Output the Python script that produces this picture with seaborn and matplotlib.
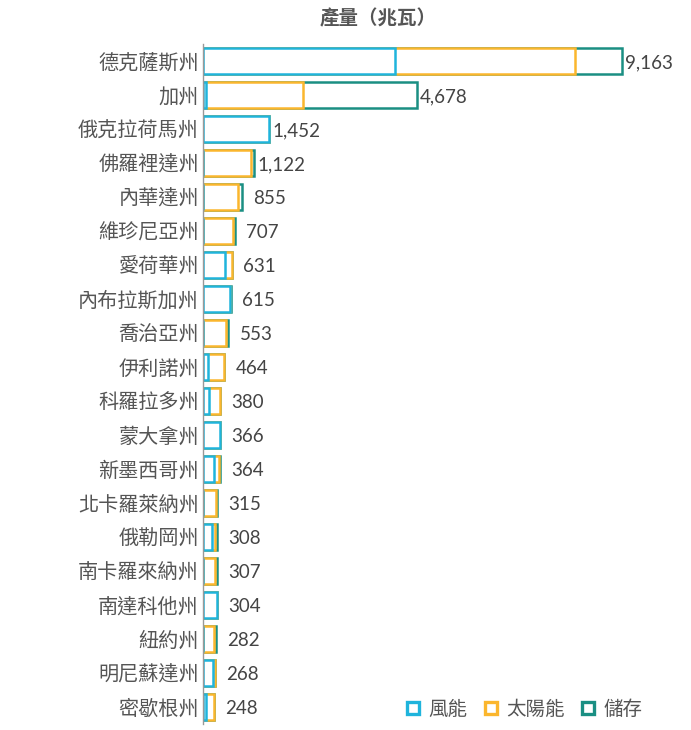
import matplotlib
matplotlib.use("Agg")
import matplotlib.pyplot as plt
from matplotlib.lines import Line2D
import numpy as np
import pandas as pd
import seaborn as sns

states = ["德克薩斯州", "加州", "俄克拉荷馬州", "佛羅裡達州", "內華達州", "維珍尼亞州",
          "愛荷華州", "內布拉斯加州", "喬治亞州", "伊利諾州", "科羅拉多州", "蒙大拿州",
          "新墨西哥州", "北卡羅萊納州", "俄勒岡州", "南卡羅來納州", "南達科他州",
          "紐約州", "明尼蘇達州", "密歇根州"]
wind = [4200, 60, 1452, 0, 0, 0, 480, 590, 0, 115, 140, 366, 235, 0, 200, 0, 304, 0, 225, 60]
solar = [3930, 2120, 0, 1056, 760, 660, 151, 0, 500, 349, 240, 0, 110, 278, 70, 270, 0, 240, 43, 188]
storage = [1033, 2498, 0, 66, 95, 47, 0, 25, 53, 0, 0, 0, 19, 37, 38, 37, 0, 42, 0, 0]
totals = [9163, 4678, 1452, 1122, 855, 707, 631, 615, 553, 464, 380, 366, 364, 315, 308, 307, 304, 282, 268, 248]

series_names = ["風能", "太陽能", "儲存"]
colors = ["#1fb4dc", "#fbb62d", "#1a8f83"]

df = pd.DataFrame({"state": states, "wind": wind, "solar": solar, "storage": storage})
df["c1"] = df["wind"]
df["c2"] = df["wind"] + df["solar"]
df["c3"] = df["c2"] + df["storage"]

sns.set_theme(style="white")
plt.rcParams["font.family"] = ["Noto Sans CJK TC", "DejaVu Sans"]

fig = plt.figure(figsize=(6.91, 7.30), dpi=100)
ax = fig.add_axes([0.2938, 0.0082, 0.6614, 0.9315])

# draw cumulative layers back to front, white fill hides the overlap
for col, c in zip(["c3", "c2", "c1"], colors[::-1]):
    sns.barplot(data=df, x=col, y="state", orient="h", color="white", saturation=1,
                edgecolor=c, linewidth=1.8, width=0.76, ax=ax)

for i, t in enumerate(totals):
    ax.annotate(f"{t:,}", xy=(df["c3"][i], i), xytext=(2 if t > 1000 else 8, -1),
                textcoords="offset points", va="center", ha="left",
                fontsize=13.5, color="#444444", family=["Lato", "DejaVu Sans"])

ax.set_xlim(0, 10000)
ax.set_xlabel("")
ax.set_ylabel("")
ax.set_xticks([])
ax.tick_params(axis="y", length=0, pad=3, labelsize=14.5, labelcolor="#555555")
for s in ["top", "right", "bottom"]:
    ax.spines[s].set_visible(False)
ax.spines["left"].set_color("#999999")
ax.spines["left"].set_linewidth(1)

fig.text(0.547, 0.975, "產量（兆瓦）", ha="center", va="center", fontsize=14,
         fontweight="bold", color="#555555")

handles = [Line2D([], [], marker="s", linestyle="none", markersize=9,
                  markerfacecolor="white", markeredgecolor=c, markeredgewidth=2.4)
           for c in colors]
leg = ax.legend(handles, series_names, loc="lower right", bbox_to_anchor=(1.0, -0.02),
                ncol=3, frameon=False, fontsize=14, handlelength=0.8, handletextpad=0.4,
                columnspacing=0.8, labelcolor="#555555")

fig.savefig("out.png", dpi=100)
